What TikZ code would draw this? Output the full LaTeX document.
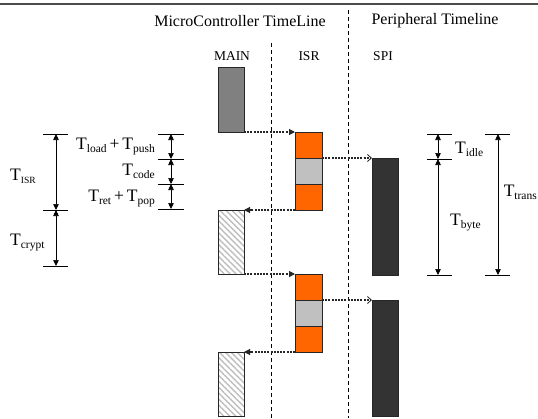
\documentclass[tikz,border=0pt]{standalone}
\usepackage{fontspec}
\setmainfont{Liberation Serif}
\usetikzlibrary{arrows.meta,patterns.meta}
\newcommand\Tsb[1]{T\raisebox{-3pt}{\fontsize{11.5}{11.5}\selectfont #1}}
\definecolor{isrorange}{RGB}{255,102,0}
\definecolor{isrgray}{RGB}{192,192,192}
\definecolor{maingray}{RGB}{128,128,128}
\definecolor{spidark}{RGB}{51,51,51}
\definecolor{hatchgray}{RGB}{190,190,190}
\begin{document}
\begin{tikzpicture}[x=1pt,y=-1pt,
  blk/.style={draw=black!85, line width=0.8pt, minimum width=26pt, inner sep=0pt, outer sep=0pt, anchor=north west},
  isrblk/.style={blk, minimum width=27pt, minimum height=26pt},
  hatch/.style={blk, pattern={Lines[angle=-45,distance=4.2pt,line width=1.4pt]}, pattern color=hatchgray},
  conn/.style={line width=1.1pt, black!85, dash pattern=on 2pt off 1.2pt},
  fulltip/.style={-{Triangle[length=6pt,width=6pt]}},
  opentip/.style={-{Straight Barb[length=4pt,width=7pt,line width=0.8pt]}},
  vdash/.style={line width=0.9pt, dash pattern=on 4pt off 3pt},
  tick/.style={line width=0.7pt, black},
  dim/.style={line width=0.7pt, {Triangle[length=6pt,width=5.5pt]}-{Triangle[length=6pt,width=5.5pt]}},
  title/.style={font=\fontsize{16}{16}\selectfont, inner sep=0pt},
  col/.style={font=\fontsize{13.5}{13.5}\selectfont, inner sep=0pt},
  lbl/.style={font=\fontsize{17.5}{17.5}\selectfont, inner sep=0pt}
]
\useasboundingbox (0,0) rectangle (538,418);
% top rule
\draw[line width=2pt, black!70] (0,3.5) -- (538,3.5);
% titles
\node[title] (tmc) at (240,21) {MicroController TimeLine};
\node[title] (tper) at (435,21) {Peripheral Timeline};
\node[col] (tmain) at (232,56) {MAIN};
\node[col] (tisr) at (309,56) {ISR};
\node[col] (tspi) at (383,56) {SPI};
% dashed separators
\coordinate (d1t) at (271,43);
\coordinate (d1b) at (271,418);
\coordinate (d2t) at (348,10);
\coordinate (d2b) at (348,418);
\draw[vdash] (d1t) -- (d1b);
\draw[vdash] (d2t) -- (d2b);
% blocks
\node[blk, fill=maingray, minimum height=65pt] (main1) at (218,67) {};
\node[isrblk, fill=isrorange] (isr1a) at (295,132) {};
\node[isrblk, fill=isrgray] (isr1b) at (295,158) {};
\node[isrblk, fill=isrorange] (isr1c) at (295,184) {};
\node[hatch, minimum height=64pt] (hat1) at (218,210) {};
\node[isrblk, fill=isrorange] (isr2a) at (295,274) {};
\node[isrblk, fill=isrgray] (isr2b) at (295,300) {};
\node[isrblk, fill=isrorange] (isr2c) at (295,326) {};
\node[hatch, minimum height=64pt] (hat2) at (218,352) {};
\node[blk, fill=spidark, minimum height=117pt] (spi1) at (372,158) {};
\node[blk, fill=spidark, minimum height=116pt] (spi2) at (372,300) {};
% connectors
\draw[conn, fulltip] (main1.south east) -- (isr1a.north west);
\draw[conn, opentip] (isr1a.south east) -- (spi1.north west);
\draw[conn, fulltip] (isr1c.south west) -- (hat1.north east);
\draw[conn, fulltip] (hat1.south east) -- (isr2a.north west);
\draw[conn, opentip] (isr2a.south east) -- (spi2.north west);
\draw[conn, fulltip] (isr2c.south west) -- (hat2.north east);
% left big dimensions
\coordinate (a1) at (56,134);
\coordinate (a2) at (56,210);
\coordinate (a3) at (56,266);
\draw[tick] (43,134) -- (68,134);
\draw[tick] (43,210) -- (68,210);
\draw[tick] (43,266) -- (68,266);
\draw[dim] (a1) -- (a2);
\draw[dim] (a2) -- (a3);
\node[lbl, anchor=base west] (lisr) at (10,180) {T\raisebox{-3pt}{\fontsize{9.5}{9.5}\selectfont ISR}};
\node[lbl, anchor=base west] (lcrypt) at (10,245) {\Tsb{crypt}};
% left small dimensions
\coordinate (b1) at (171,134);
\coordinate (b2) at (171,159);
\coordinate (b3) at (171,184);
\coordinate (b4) at (171,209);
\draw[tick] (158,134) -- (184,134);
\draw[tick] (158,159) -- (184,159);
\draw[tick] (158,184) -- (184,184);
\draw[tick] (158,209) -- (184,209);
\draw[dim] (b1) -- (b2);
\draw[dim] (b2) -- (b3);
\draw[dim] (b3) -- (b4);
\node[lbl, anchor=base east] (lload) at (155,149) {\Tsb{load}\,+\,\Tsb{push}};
\node[lbl, anchor=base east] (lcode) at (155,175.5) {\Tsb{code}};
\node[lbl, anchor=base east] (lret) at (155,201.5) {\Tsb{ret}\,+\,\Tsb{pop}};
% right dimensions
\coordinate (c1) at (438,134);
\coordinate (c2) at (438,159);
\coordinate (c3) at (438,275);
\coordinate (e1) at (498,134);
\coordinate (e2) at (498,275);
\draw[tick] (427,134) -- (452,134);
\draw[tick] (427,159) -- (452,159);
\draw[tick] (427,275) -- (452,275);
\draw[tick] (485,134) -- (510,134);
\draw[tick] (485,275) -- (510,275);
\draw[dim] (c1) -- (c2);
\draw[dim] (c2) -- (c3);
\draw[dim] (e1) -- (e2);
\node[lbl, anchor=base west] (lidle) at (455,153) {\Tsb{idle}};
\node[lbl, anchor=base west] (lbyte) at (450,225) {\Tsb{byte}};
\node[lbl, anchor=base east] (ltrans) at (537,196) {\Tsb{trans}};
\end{tikzpicture}
\end{document}
